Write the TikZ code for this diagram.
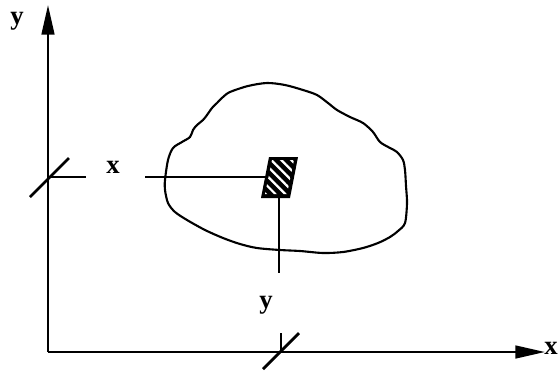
\documentclass[tikz,border=0pt]{standalone}
\usepackage{fontspec}
\setmainfont{Liberation Serif}
\usetikzlibrary{arrows.meta,patterns.meta}

\begin{document}
\begin{tikzpicture}[
  x=0.025cm, y=-0.025cm,
  >={Triangle[length=21pt,width=9pt]},
  axis/.style={->, line width=1.7pt},
  tick/.style={line width=2pt},
  guide/.style={line width=0.8pt},
  body/.style={line width=1.5pt},
  lbl/.style={font=\bfseries\fontsize{19}{22}\selectfont, anchor=base, inner sep=0pt},
]
\useasboundingbox (0,0) rectangle (558,376);

% axes
\coordinate (O) at (48,352);
\coordinate (ytip) at (48,5);
\coordinate (xtip) at (545,352);
\draw[axis] (O) -- (xtip);
\draw[axis] (O) -- (ytip);
\node[lbl] (ylab) at (17,24) {y};
\node[lbl] (xlab) at (551,354) {x};

% the body
\draw[body] plot[smooth cycle] coordinates {
  (230,92) (248,86) (267,83) (285,85) (303,90) (317,95) (328,103)
  (337,110) (350,117) (363,123) (373,132) (380,142) (390,148)
  (397,152) (403,160) (405,170) (406,186) (407,203) (405,223)
  (398,231) (390,237) (378,243) (363,248) (343,252) (323,253)
  (300,251) (280,250) (257,248) (240,244) (223,238) (205,230)
  (187,220) (175,212) (168,203) (165,190) (165,180) (168,160)
  (173,148) (182,142) (190,137) (193,130) (197,125) (203,120)
  (207,115) (212,108) (217,103) (223,97)};

% small element
\coordinate (e1) at (261,198);
\coordinate (e2) at (269,157);
\coordinate (e3) at (298,157);
\coordinate (e4) at (290,198);
\fill[black] (e1) -- (e2) -- (e3) -- (e4) -- cycle;
\fill[pattern={Lines[angle=-45,distance=5pt,line width=1.6pt]}, pattern color=white]
  ([shift={(4,-4)}]e1) -- ([shift={(3,3)}]e2) -- ([shift={(-4,3)}]e3) -- ([shift={(-3,-4)}]e4) -- cycle;

% x position of the element
\coordinate (yk) at (48,177);
\coordinate (xg) at (145,177);
\coordinate (xe) at (265,177);
\draw[tick] (30,197) -- (69,158);
\draw[guide] (yk) -- (86,177);
\node[lbl] (xpos) at (113,173) {x};
\draw[guide] (xg) -- (xe);

% y position of the element
\coordinate (ye) at (279,198);
\coordinate (yg) at (279,273);
\coordinate (xk) at (281,352);
\draw[guide] (ye) -- (yg);
\node[lbl] (ypos) at (266,308) {y};
\draw[guide] (xk) -- (281,333);
\draw[tick] (263,369) -- (299,333);
\end{tikzpicture}
\end{document}
